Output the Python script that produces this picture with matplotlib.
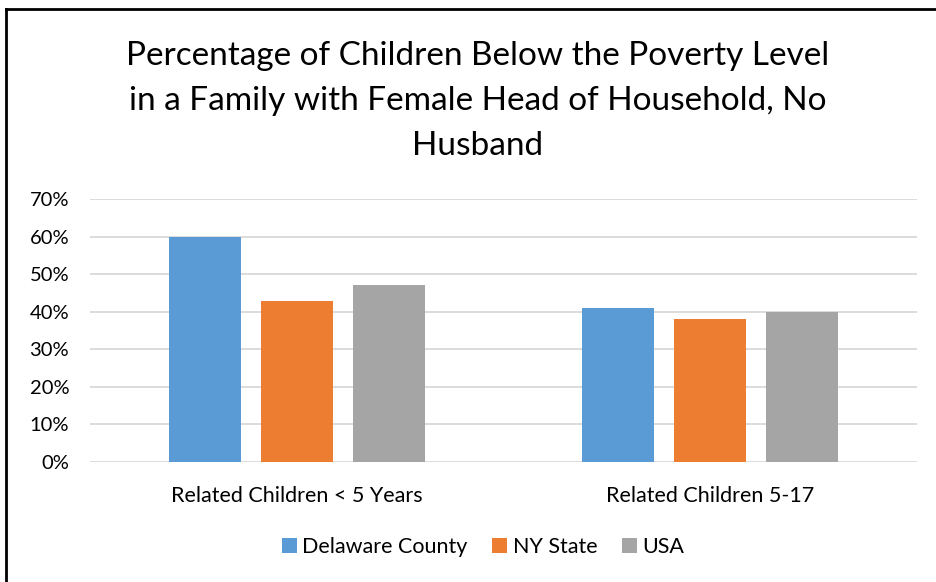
import numpy as np
import matplotlib.pyplot as plt
from matplotlib.lines import Line2D

plt.rcParams['font.family'] = ['Lato', 'DejaVu Sans']

# -------------------------------
# data
# -------------------------------
categories = ['Related Children < 5 Years', 'Related Children 5-17']
series_names = ['Delaware County', 'NY State', 'USA']
delaware = [60, 41]
ny_state = [42.8, 38]
usa = [47, 40]
colors = ['#5b9bd5', '#ed7d31', '#a5a5a5']

# -------------------------------
# figure
# -------------------------------
W, H = 936, 582
fig = plt.figure(figsize=(W / 100, H / 100), dpi=100)

# outer frame: only left and top edges are in the screenshot
fig.add_artist(Line2D([6 / W, 6 / W], [0, 1 - 9 / H], transform=fig.transFigure,
                      color='black', linewidth=2))
fig.add_artist(Line2D([6 / W, 1], [1 - 9 / H, 1 - 9 / H], transform=fig.transFigure,
                      color='black', linewidth=2))

ax = fig.add_axes([90 / W, 1 - 462 / H, (917 - 90) / W, (462 - 199) / H])

x = np.arange(len(categories))
width = 0.174
step = 0.2225
for k, (vals, name) in enumerate(zip([delaware, ny_state, usa], series_names)):
    ax.bar(x + (k - 1) * step, vals, width, color=colors[k], label=name, zorder=3)

ax.set_xlim(-0.5, 1.5)
ax.set_ylim(0, 70)
ax.set_yticks(np.arange(0, 71, 10))
ax.set_yticklabels([f'{v}%' for v in range(0, 71, 10)])
ax.set_xticks(x)
ax.set_xticklabels(categories)
ax.grid(axis='y', color='#d9d9d9', linewidth=1.3, zorder=0)
for s in ax.spines.values():
    s.set_visible(False)
ax.tick_params(axis='both', length=0, colors='black')
ax.tick_params(axis='y', pad=15, labelsize=14.5)
ax.tick_params(axis='x', pad=17, labelsize=15.5)

fig.text(478 / W, 1 - 101 / H,
         'Percentage of Children Below the Poverty Level\n'
         'in a Family with Female Head of Household, No\nHusband',
         ha='center', va='center', fontsize=24, linespacing=1.62)

ax.legend(loc='center', bbox_to_anchor=(483 / W, 1 - 547 / H),
          bbox_transform=fig.transFigure, ncol=3, frameon=False,
          fontsize=15.5, handlelength=0.7, handleheight=0.7,
          handletextpad=0.25, columnspacing=1.15)

fig.savefig('out.png', dpi=100)
